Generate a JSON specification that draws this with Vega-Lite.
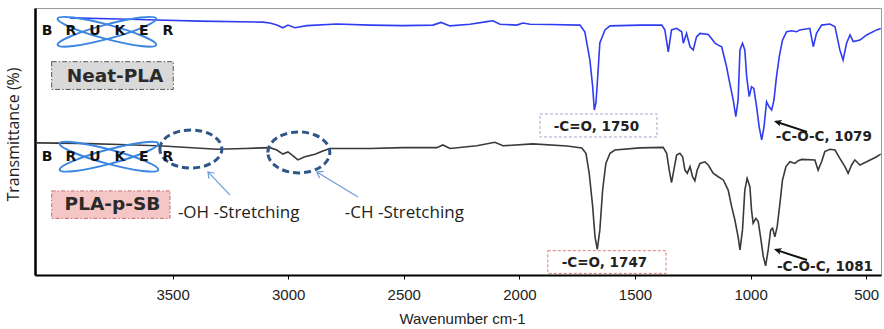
{
  "$schema": "https://vega.github.io/schema/vega-lite/v6.json",
  "width": 846,
  "height": 267,
  "autosize": "none",
  "padding": {"left": 35, "top": 8, "right": 3, "bottom": 54},
  "background": "white",
  "config": {"view": {"stroke": "#9a9a9a", "strokeWidth": 1}},
  "datasets": {
    "spectra": [
      {"s":"Neat-PLA","wn":3944,"t":96.3},{"s":"Neat-PLA","wn":3901,"t":96.2},{"s":"Neat-PLA","wn":3728,"t":95.9},{"s":"Neat-PLA","wn":3568,"t":95.5},{"s":"Neat-PLA","wn":3382,"t":95.1},{"s":"Neat-PLA","wn":3109,"t":94.7},{"s":"Neat-PLA","wn":3079,"t":94.4},{"s":"Neat-PLA","wn":3049,"t":93.6},{"s":"Neat-PLA","wn":3023,"t":92.6},{"s":"Neat-PLA","wn":3001,"t":93.6},{"s":"Neat-PLA","wn":2971,"t":92.6},{"s":"Neat-PLA","wn":2919,"t":93.4},{"s":"Neat-PLA","wn":2789,"t":94.0},{"s":"Neat-PLA","wn":2646,"t":93.6},{"s":"Neat-PLA","wn":2504,"t":93.4},{"s":"Neat-PLA","wn":2374,"t":93.6},{"s":"Neat-PLA","wn":2339,"t":94.6},{"s":"Neat-PLA","wn":2300,"t":93.3},{"s":"Neat-PLA","wn":2214,"t":93.9},{"s":"Neat-PLA","wn":2140,"t":94.9},{"s":"Neat-PLA","wn":2115,"t":95.2},{"s":"Neat-PLA","wn":2084,"t":93.9},{"s":"Neat-PLA","wn":2011,"t":93.6},{"s":"Neat-PLA","wn":1985,"t":94.4},{"s":"Neat-PLA","wn":1954,"t":93.9},{"s":"Neat-PLA","wn":1868,"t":93.8},{"s":"Neat-PLA","wn":1738,"t":93.6},{"s":"Neat-PLA","wn":1717,"t":91.1},{"s":"Neat-PLA","wn":1695,"t":80.5},{"s":"Neat-PLA","wn":1683,"t":70.5},{"s":"Neat-PLA","wn":1676,"t":61.8},{"s":"Neat-PLA","wn":1669,"t":64.4},{"s":"Neat-PLA","wn":1663,"t":71.9},{"s":"Neat-PLA","wn":1652,"t":86.9},{"s":"Neat-PLA","wn":1630,"t":91.8},{"s":"Neat-PLA","wn":1608,"t":93.3},{"s":"Neat-PLA","wn":1479,"t":93.6},{"s":"Neat-PLA","wn":1384,"t":93.6},{"s":"Neat-PLA","wn":1371,"t":91.8},{"s":"Neat-PLA","wn":1356,"t":83.6},{"s":"Neat-PLA","wn":1342,"t":91.8},{"s":"Neat-PLA","wn":1320,"t":92.4},{"s":"Neat-PLA","wn":1298,"t":91.1},{"s":"Neat-PLA","wn":1291,"t":86.8},{"s":"Neat-PLA","wn":1277,"t":90.5},{"s":"Neat-PLA","wn":1262,"t":85.5},{"s":"Neat-PLA","wn":1248,"t":84.3},{"s":"Neat-PLA","wn":1234,"t":89.2},{"s":"Neat-PLA","wn":1219,"t":90.5},{"s":"Neat-PLA","wn":1183,"t":90.1},{"s":"Neat-PLA","wn":1169,"t":88.6},{"s":"Neat-PLA","wn":1154,"t":86.8},{"s":"Neat-PLA","wn":1140,"t":86.1},{"s":"Neat-PLA","wn":1125,"t":85.5},{"s":"Neat-PLA","wn":1104,"t":78.0},{"s":"Neat-PLA","wn":1090,"t":71.8},{"s":"Neat-PLA","wn":1075,"t":65.5},{"s":"Neat-PLA","wn":1064,"t":59.3},{"s":"Neat-PLA","wn":1054,"t":65.5},{"s":"Neat-PLA","wn":1046,"t":84.3},{"s":"Neat-PLA","wn":1035,"t":86.8},{"s":"Neat-PLA","wn":1025,"t":84.3},{"s":"Neat-PLA","wn":1017,"t":74.3},{"s":"Neat-PLA","wn":1006,"t":66.8},{"s":"Neat-PLA","wn":996,"t":70.5},{"s":"Neat-PLA","wn":986,"t":69.9},{"s":"Neat-PLA","wn":974,"t":63.0},{"s":"Neat-PLA","wn":963,"t":55.5},{"s":"Neat-PLA","wn":952,"t":50.6},{"s":"Neat-PLA","wn":942,"t":55.5},{"s":"Neat-PLA","wn":931,"t":64.9},{"s":"Neat-PLA","wn":920,"t":63.0},{"s":"Neat-PLA","wn":909,"t":61.8},{"s":"Neat-PLA","wn":899,"t":65.5},{"s":"Neat-PLA","wn":888,"t":74.3},{"s":"Neat-PLA","wn":876,"t":81.8},{"s":"Neat-PLA","wn":862,"t":88.0},{"s":"Neat-PLA","wn":844,"t":91.1},{"s":"Neat-PLA","wn":823,"t":91.5},{"s":"Neat-PLA","wn":801,"t":91.1},{"s":"Neat-PLA","wn":787,"t":91.8},{"s":"Neat-PLA","wn":744,"t":92.4},{"s":"Neat-PLA","wn":729,"t":85.5},{"s":"Neat-PLA","wn":715,"t":90.5},{"s":"Neat-PLA","wn":693,"t":93.6},{"s":"Neat-PLA","wn":657,"t":94.0},{"s":"Neat-PLA","wn":635,"t":93.0},{"s":"Neat-PLA","wn":614,"t":84.3},{"s":"Neat-PLA","wn":600,"t":80.5},{"s":"Neat-PLA","wn":585,"t":86.8},{"s":"Neat-PLA","wn":570,"t":89.9},{"s":"Neat-PLA","wn":556,"t":87.4},{"s":"Neat-PLA","wn":527,"t":88.0},{"s":"Neat-PLA","wn":498,"t":89.9},{"s":"Neat-PLA","wn":455,"t":91.8},{"s":"Neat-PLA","wn":437,"t":92.3},
      {"s":"PLA-p-SB","wn":4087,"t":49.5},{"s":"PLA-p-SB","wn":3901,"t":49.3},{"s":"PLA-p-SB","wn":3728,"t":48.9},{"s":"PLA-p-SB","wn":3542,"t":48.3},{"s":"PLA-p-SB","wn":3308,"t":47.1},{"s":"PLA-p-SB","wn":3187,"t":47.4},{"s":"PLA-p-SB","wn":3079,"t":47.7},{"s":"PLA-p-SB","wn":3049,"t":46.8},{"s":"PLA-p-SB","wn":3023,"t":45.3},{"s":"PLA-p-SB","wn":3001,"t":46.1},{"s":"PLA-p-SB","wn":2980,"t":44.7},{"s":"PLA-p-SB","wn":2958,"t":43.1},{"s":"PLA-p-SB","wn":2928,"t":44.3},{"s":"PLA-p-SB","wn":2884,"t":45.2},{"s":"PLA-p-SB","wn":2850,"t":46.4},{"s":"PLA-p-SB","wn":2820,"t":47.4},{"s":"PLA-p-SB","wn":2646,"t":47.4},{"s":"PLA-p-SB","wn":2504,"t":47.7},{"s":"PLA-p-SB","wn":2357,"t":47.7},{"s":"PLA-p-SB","wn":2331,"t":48.7},{"s":"PLA-p-SB","wn":2300,"t":47.4},{"s":"PLA-p-SB","wn":2184,"t":48.4},{"s":"PLA-p-SB","wn":2106,"t":49.7},{"s":"PLA-p-SB","wn":2071,"t":48.4},{"s":"PLA-p-SB","wn":1942,"t":49.1},{"s":"PLA-p-SB","wn":1794,"t":48.3},{"s":"PLA-p-SB","wn":1730,"t":47.6},{"s":"PLA-p-SB","wn":1712,"t":45.6},{"s":"PLA-p-SB","wn":1698,"t":38.1},{"s":"PLA-p-SB","wn":1683,"t":25.6},{"s":"PLA-p-SB","wn":1673,"t":14.3},{"s":"PLA-p-SB","wn":1663,"t":9.6},{"s":"PLA-p-SB","wn":1652,"t":16.9},{"s":"PLA-p-SB","wn":1640,"t":31.8},{"s":"PLA-p-SB","wn":1626,"t":41.8},{"s":"PLA-p-SB","wn":1608,"t":45.6},{"s":"PLA-p-SB","wn":1587,"t":46.8},{"s":"PLA-p-SB","wn":1479,"t":47.6},{"s":"PLA-p-SB","wn":1378,"t":47.8},{"s":"PLA-p-SB","wn":1363,"t":45.6},{"s":"PLA-p-SB","wn":1352,"t":39.3},{"s":"PLA-p-SB","wn":1342,"t":34.6},{"s":"PLA-p-SB","wn":1332,"t":39.3},{"s":"PLA-p-SB","wn":1320,"t":44.9},{"s":"PLA-p-SB","wn":1306,"t":45.6},{"s":"PLA-p-SB","wn":1294,"t":44.3},{"s":"PLA-p-SB","wn":1284,"t":39.3},{"s":"PLA-p-SB","wn":1274,"t":38.1},{"s":"PLA-p-SB","wn":1262,"t":40.6},{"s":"PLA-p-SB","wn":1251,"t":36.8},{"s":"PLA-p-SB","wn":1241,"t":35.3},{"s":"PLA-p-SB","wn":1231,"t":39.3},{"s":"PLA-p-SB","wn":1219,"t":41.8},{"s":"PLA-p-SB","wn":1198,"t":42.4},{"s":"PLA-p-SB","wn":1183,"t":41.2},{"s":"PLA-p-SB","wn":1162,"t":38.1},{"s":"PLA-p-SB","wn":1140,"t":36.8},{"s":"PLA-p-SB","wn":1118,"t":35.6},{"s":"PLA-p-SB","wn":1097,"t":31.8},{"s":"PLA-p-SB","wn":1082,"t":25.6},{"s":"PLA-p-SB","wn":1068,"t":20.6},{"s":"PLA-p-SB","wn":1054,"t":14.3},{"s":"PLA-p-SB","wn":1046,"t":9.4},{"s":"PLA-p-SB","wn":1035,"t":16.9},{"s":"PLA-p-SB","wn":1025,"t":31.8},{"s":"PLA-p-SB","wn":1015,"t":36.2},{"s":"PLA-p-SB","wn":1003,"t":33.1},{"s":"PLA-p-SB","wn":996,"t":24.3},{"s":"PLA-p-SB","wn":989,"t":19.4},{"s":"PLA-p-SB","wn":977,"t":21.2},{"s":"PLA-p-SB","wn":967,"t":20.0},{"s":"PLA-p-SB","wn":957,"t":14.3},{"s":"PLA-p-SB","wn":945,"t":6.9},{"s":"PLA-p-SB","wn":935,"t":3.4},{"s":"PLA-p-SB","wn":924,"t":9.4},{"s":"PLA-p-SB","wn":913,"t":16.9},{"s":"PLA-p-SB","wn":905,"t":17.5},{"s":"PLA-p-SB","wn":895,"t":14.3},{"s":"PLA-p-SB","wn":885,"t":18.1},{"s":"PLA-p-SB","wn":873,"t":26.9},{"s":"PLA-p-SB","wn":862,"t":35.6},{"s":"PLA-p-SB","wn":847,"t":40.6},{"s":"PLA-p-SB","wn":830,"t":42.4},{"s":"PLA-p-SB","wn":808,"t":41.8},{"s":"PLA-p-SB","wn":794,"t":42.8},{"s":"PLA-p-SB","wn":779,"t":43.3},{"s":"PLA-p-SB","wn":722,"t":43.1},{"s":"PLA-p-SB","wn":708,"t":39.3},{"s":"PLA-p-SB","wn":693,"t":42.4},{"s":"PLA-p-SB","wn":679,"t":46.2},{"s":"PLA-p-SB","wn":657,"t":47.1},{"s":"PLA-p-SB","wn":635,"t":46.8},{"s":"PLA-p-SB","wn":614,"t":43.7},{"s":"PLA-p-SB","wn":592,"t":40.6},{"s":"PLA-p-SB","wn":578,"t":38.1},{"s":"PLA-p-SB","wn":563,"t":41.2},{"s":"PLA-p-SB","wn":549,"t":43.1},{"s":"PLA-p-SB","wn":527,"t":41.2},{"s":"PLA-p-SB","wn":498,"t":42.4},{"s":"PLA-p-SB","wn":455,"t":44.3},{"s":"PLA-p-SB","wn":437,"t":45.3}
    ]
  },
  "layer": [
    {
      "data": {"name": "spectra"},
      "mark": {"type": "line", "strokeWidth": 1.6, "clip": true},
      "encoding": {
        "x": {"field": "wn", "type": "quantitative",
          "scale": {"domain": [436, 4095], "reverse": true, "nice": false, "zero": false},
          "axis": {"title": "Wavenumber cm-1", "values": [3500, 3000, 2500, 2000, 1500, 1000, 500], "format": "d",
            "grid": false, "domainColor": "black", "domainWidth": 2, "tickColor": "black", "tickSize": 4, "tickWidth": 1,
            "labelFont": "Liberation Sans", "labelFontSize": 15, "labelColor": "#222", "labelPadding": 8,
            "labelFlush": false, "labelOverlap": false,
            "titleFont": "Liberation Sans", "titleFontSize": 15, "titleFontWeight": "normal", "titleColor": "#222",
            "titleX": 427, "titleY": 43, "titleBaseline": "middle"}},
        "y": {"field": "t", "type": "quantitative",
          "scale": {"domain": [0, 100], "nice": false, "zero": false},
          "axis": {"title": "Transmittance (%)", "labels": false, "ticks": false, "grid": false,
            "domainColor": "black", "domainWidth": 2.5,
            "titleFont": "Open Sans", "titleFontSize": 16, "titleFontWeight": "normal", "titleColor": "#222",
            "titleX": -22, "titleY": 126, "titleAlign": "center", "titleBaseline": "middle", "titleAngle": -90}},
        "color": {"field": "s", "type": "nominal", "scale": {"domain": ["Neat-PLA", "PLA-p-SB"], "range": ["#2f3cf0", "#3a3a3a"]}, "legend": null}
      }
    },
    {
      "mark": {"type": "rule", "color": "black", "strokeWidth": 2},
      "encoding": {"y": {"datum": 100}}
    },
    {
      "data": {"values": [{"wn": 4023, "wn2": 3497, "t": 79.9, "t2": 69.5}]},
      "mark": {"type": "rect", "fill": "#d9d9d9", "stroke": "#555555", "strokeWidth": 1, "strokeDash": [5, 2, 1.5, 2]},
      "encoding": {"x": {"field": "wn", "type": "quantitative"}, "x2": {"field": "wn2"}, "y": {"field": "t", "type": "quantitative"}, "y2": {"field": "t2"}}
    },
    {
      "data": {"values": [{"wn": 4023, "wn2": 3511, "t": 31.5, "t2": 21.2}]},
      "mark": {"type": "rect", "fill": "#f5c6c6", "stroke": "#c86a6a", "strokeWidth": 1, "strokeDash": [4, 2, 1.5, 2]},
      "encoding": {"x": {"field": "wn", "type": "quantitative"}, "x2": {"field": "wn2"}, "y": {"field": "t", "type": "quantitative"}, "y2": {"field": "t2"}}
    },
    {
      "data": {"values": [{"wn": 1911, "wn2": 1405, "t": 60.3, "t2": 51.7}]},
      "mark": {"type": "rect", "fill": "white", "stroke": "#a8a8cc", "strokeWidth": 1, "strokeDash": [3, 2]},
      "encoding": {"x": {"field": "wn", "type": "quantitative"}, "x2": {"field": "wn2"}, "y": {"field": "t", "type": "quantitative"}, "y2": {"field": "t2"}}
    },
    {
      "data": {"values": [{"wn": 1877, "wn2": 1366, "t": 9.1, "t2": 0.6}]},
      "mark": {"type": "rect", "fill": "white", "stroke": "#e07a7a", "strokeWidth": 1, "strokeDash": [3, 2]},
      "encoding": {"x": {"field": "wn", "type": "quantitative"}, "x2": {"field": "wn2"}, "y": {"field": "t", "type": "quantitative"}, "y2": {"field": "t2"}}
    },
    {
      "data": {"values": [{"wn": 3749, "t": 74.7, "label": "Neat-PLA"}, {"wn": 3760, "t": 26.6, "label": "PLA-p-SB"}]},
      "mark": {"type": "text", "font": "DejaVu Sans", "fontWeight": "bold", "fontSize": 18.5, "color": "#2a2a2a", "align": "center", "baseline": "middle"},
      "encoding": {"x": {"field": "wn", "type": "quantitative"}, "y": {"field": "t", "type": "quantitative"}, "text": {"field": "label"}}
    },
    {
      "data": {"values": [{"wn": 1667, "t": 55.6, "label": "-C=O, 1750"}, {"wn": 1632, "t": 4.6, "label": "-C=O, 1747"}]},
      "mark": {"type": "text", "font": "DejaVu Sans", "fontWeight": "bold", "fontSize": 13.5, "color": "#222", "align": "center", "baseline": "middle"},
      "encoding": {"x": {"field": "wn", "type": "quantitative"}, "y": {"field": "t", "type": "quantitative"}, "text": {"field": "label"}}
    },
    {
      "data": {"values": [{"wn": 891, "t": 51.8, "label": "-C-O-C, 1079"}, {"wn": 886, "t": 3.1, "label": "-C-O-C, 1081"}]},
      "mark": {"type": "text", "font": "DejaVu Sans", "fontWeight": "bold", "fontSize": 13.5, "color": "#222", "align": "left", "baseline": "middle"},
      "encoding": {"x": {"field": "wn", "type": "quantitative"}, "y": {"field": "t", "type": "quantitative"}, "text": {"field": "label"}}
    },
    {
      "data": {"values": [{"wn": 3477, "t": 23.1, "label": "-OH -Stretching"}, {"wn": 2755, "t": 23.1, "label": "-CH -Stretching"}]},
      "mark": {"type": "text", "font": "Open Sans", "fontSize": 17, "color": "#222", "align": "left", "baseline": "middle"},
      "encoding": {"x": {"field": "wn", "type": "quantitative"}, "y": {"field": "t", "type": "quantitative"}, "text": {"field": "label"}}
    },
    {
      "data": {"values": [{"wn": 3421, "t": 47.2}]},
      "mark": {"type": "point", "filled": false, "size": 3844, "stroke": "#2f5688", "strokeWidth": 3, "strokeDash": [7, 4], "opacity": 1,
        "shape": "M -1 0 C -1 -0.3386 -0.5523 -0.613 0 -0.613 C 0.5523 -0.613 1 -0.3386 1 0 C 1 0.3386 0.5523 0.613 0 0.613 C -0.5523 0.613 -1 0.3386 -1 0 Z"},
      "encoding": {"x": {"field": "wn", "type": "quantitative"}, "y": {"field": "t", "type": "quantitative"}}
    },
    {
      "data": {"values": [{"wn": 2954, "t": 45.9}]},
      "mark": {"type": "point", "filled": false, "size": 3844, "stroke": "#2f5688", "strokeWidth": 3, "strokeDash": [7, 4], "opacity": 1,
        "shape": "M -1 0 C -1 -0.3647 -0.5523 -0.66 0 -0.66 C 0.5523 -0.66 1 -0.3647 1 0 C 1 0.3647 0.5523 0.66 0 0.66 C -0.5523 0.66 -1 0.3647 -1 0 Z"},
      "encoding": {"x": {"field": "wn", "type": "quantitative"}, "y": {"field": "t", "type": "quantitative"}}
    },
    {
      "data": {"values": [{"wn": 3784, "t": 91.1}, {"wn": 3775, "t": 44.3}]},
      "mark": {"type": "point", "filled": false, "size": 10400, "stroke": "#3b86e0", "strokeWidth": 2, "opacity": 1, "angle": 15,
        "shape": "M -1 0 C -1 -0.0773 -0.5523 -0.14 0 -0.14 C 0.5523 -0.14 1 -0.0773 1 0 C 1 0.0773 0.5523 0.14 0 0.14 C -0.5523 0.14 -1 0.0773 -1 0 Z"},
      "encoding": {"x": {"field": "wn", "type": "quantitative"}, "y": {"field": "t", "type": "quantitative"}}
    },
    {
      "data": {"values": [{"wn": 3784, "t": 91.1}, {"wn": 3775, "t": 44.3}]},
      "mark": {"type": "point", "filled": false, "size": 10400, "stroke": "#3b86e0", "strokeWidth": 2, "opacity": 1, "angle": -15,
        "shape": "M -1 0 C -1 -0.0773 -0.5523 -0.14 0 -0.14 C 0.5523 -0.14 1 -0.0773 1 0 C 1 0.0773 0.5523 0.14 0 0.14 C -0.5523 0.14 -1 0.0773 -1 0 Z"},
      "encoding": {"x": {"field": "wn", "type": "quantitative"}, "y": {"field": "t", "type": "quantitative"}}
    },
    {
      "data": {"values": [
        {"wn": 4043, "t": 91.4, "ch": "B"}, {"wn": 3940, "t": 91.4, "ch": "R"}, {"wn": 3836, "t": 91.4, "ch": "U"}, {"wn": 3728, "t": 91.4, "ch": "K"}, {"wn": 3624, "t": 91.4, "ch": "E"}, {"wn": 3520, "t": 91.4, "ch": "R"},
        {"wn": 4043, "t": 44.2, "ch": "B"}, {"wn": 3940, "t": 44.2, "ch": "R"}, {"wn": 3836, "t": 44.2, "ch": "U"}, {"wn": 3728, "t": 44.2, "ch": "K"}, {"wn": 3624, "t": 44.2, "ch": "E"}, {"wn": 3520, "t": 44.2, "ch": "R"}
      ]},
      "mark": {"type": "text", "font": "DejaVu Sans", "fontWeight": "bold", "fontSize": 14, "color": "#111", "align": "center", "baseline": "middle"},
      "encoding": {"x": {"field": "wn", "type": "quantitative"}, "y": {"field": "t", "type": "quantitative"}, "text": {"field": "ch"}}
    },
    {
      "data": {"values": [{"wn": 3252, "t": 30.0, "wn2": 3347, "t2": 38.6}, {"wn": 2698, "t": 29.2, "wn2": 2876, "t2": 38.6}]},
      "mark": {"type": "rule", "color": "#6b9bd6", "strokeWidth": 1.2},
      "encoding": {"x": {"field": "wn", "type": "quantitative"}, "x2": {"field": "wn2"}, "y": {"field": "t", "type": "quantitative"}, "y2": {"field": "t2"}}
    },
    {
      "data": {"values": [{"wn": 3347, "t": 38.6}]},
      "mark": {"type": "point", "filled": false, "size": 120, "stroke": "#6b9bd6", "strokeWidth": 1.2, "opacity": 1, "angle": 226, "shape": "M -1 -0.7 L 0 0 L -1 0.7"},
      "encoding": {"x": {"field": "wn", "type": "quantitative"}, "y": {"field": "t", "type": "quantitative"}}
    },
    {
      "data": {"values": [{"wn": 2876, "t": 38.6}]},
      "mark": {"type": "point", "filled": false, "size": 120, "stroke": "#6b9bd6", "strokeWidth": 1.2, "opacity": 1, "angle": 211, "shape": "M -1 -0.7 L 0 0 L -1 0.7"},
      "encoding": {"x": {"field": "wn", "type": "quantitative"}, "y": {"field": "t", "type": "quantitative"}}
    },
    {
      "data": {"values": [{"wn": 756, "t": 53.6, "wn2": 890, "t2": 57.4}, {"wn": 756, "t": 5.6, "wn2": 890, "t2": 9.4}]},
      "mark": {"type": "rule", "color": "#111", "strokeWidth": 2},
      "encoding": {"x": {"field": "wn", "type": "quantitative"}, "x2": {"field": "wn2"}, "y": {"field": "t", "type": "quantitative"}, "y2": {"field": "t2"}}
    },
    {
      "data": {"values": [{"wn": 899, "t": 57.7}, {"wn": 899, "t": 9.7}]},
      "mark": {"type": "point", "filled": true, "size": 160, "color": "#111", "opacity": 1, "angle": 198, "shape": "M 0 0 L -1.2 -0.55 L -0.9 0 L -1.2 0.55 Z"},
      "encoding": {"x": {"field": "wn", "type": "quantitative"}, "y": {"field": "t", "type": "quantitative"}}
    }
  ]
}
